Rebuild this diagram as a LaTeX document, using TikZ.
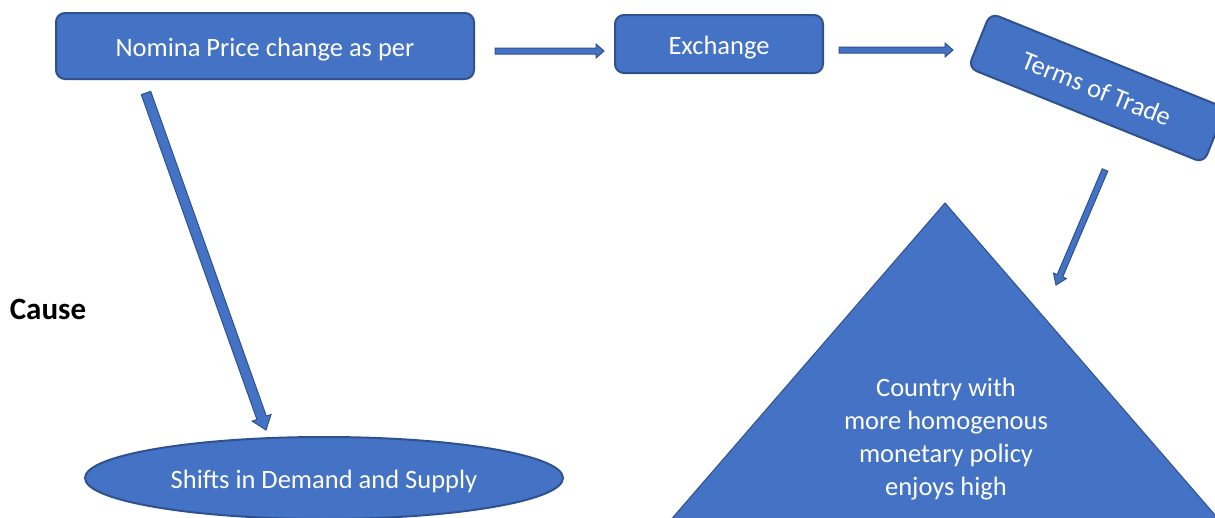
\documentclass[tikz,border=0pt]{standalone}
\usepackage{fontspec}
\setmainfont{Carlito}
\usepackage{tikz}
\usetikzlibrary{shapes.geometric}
\usetikzlibrary{calc}

\definecolor{boxblue}{HTML}{4472C4}
\definecolor{edgeblue}{HTML}{2F528F}

\tikzset{
  box/.style={draw=edgeblue, line width=2pt, fill=boxblue, rounded corners=9pt,
    text=white, inner sep=0pt, text height=20pt, text depth=0pt,
    font=\fontsize{26.5}{32}\selectfont},
  oval/.style={ellipse, draw=edgeblue, line width=2pt, fill=boxblue,
    text=white, inner sep=0pt, text height=20pt, text depth=0pt,
    font=\fontsize{26.5}{32}\selectfont},
  tritext/.style={text=white, align=center, font=\fontsize{26.5}{33}\selectfont},
  cause/.style={font=\fontsize{31}{36}\selectfont\bfseries}
}

% block arrow: from, to, half shaft, half head, head length
\newcommand{\blockarrow}[5]{%
  \coordinate (hb) at ($(#2)!#5!(#1)$);
  \filldraw[fill=boxblue, draw=edgeblue, line width=1pt]
    ($(#1)!#3!90:(#2)$) -- ($(hb)!#3!90:(#2)$) -- ($(hb)!#4!90:(#2)$) -- (#2)
    -- ($(hb)!#4!-90:(#2)$) -- ($(hb)!#3!-90:(#2)$) -- ($(#1)!#3!-90:(#2)$) -- cycle;
}

\begin{document}
\begin{tikzpicture}[x=1pt,y=-1pt]

\useasboundingbox (0,0) rectangle (1215,517);
\clip (0,0) rectangle (1215,517);

%boxes
\node[box, minimum width=418pt, minimum height=66pt] (nomina) at (265,46) {Nomina Price change as per};
\node[box, minimum width=208pt, minimum height=58pt] (exch) at (719,44) {Exchange};
\node[box, minimum width=254pt, minimum height=59pt, rotate=-22] (tot) at (1097,88) {Terms of Trade};

%triangle
\filldraw[fill=boxblue, draw=edgeblue, line width=1pt] (945,203) -- (1254,560) -- (636,560) -- cycle;
\node[tritext] (country) at (946,439) {Country with\\more homogenous\\monetary policy\\enjoys high};

%oval
\node[oval, minimum width=478pt, minimum height=82pt] (shifts) at (324,478) {Shifts in Demand and Supply};

\node[cause] (lbl) at (48,309) {Cause};

%arrows
\coordinate (a1) at (495,51);  \coordinate (b1) at (604,51);
\coordinate (a2) at (839,50);  \coordinate (b2) at (953,50);
\coordinate (a3) at (1105,170); \coordinate (b3) at (1056,285);
\coordinate (a4) at (146,93);  \coordinate (b4) at (266,430);
\blockarrow{a1}{b1}{3pt}{7pt}{8pt}
\blockarrow{a2}{b2}{3pt}{7pt}{8pt}
\blockarrow{a3}{b3}{3pt}{7pt}{10pt}
\blockarrow{a4}{b4}{5pt}{10pt}{13pt}

\end{tikzpicture}
\end{document}
